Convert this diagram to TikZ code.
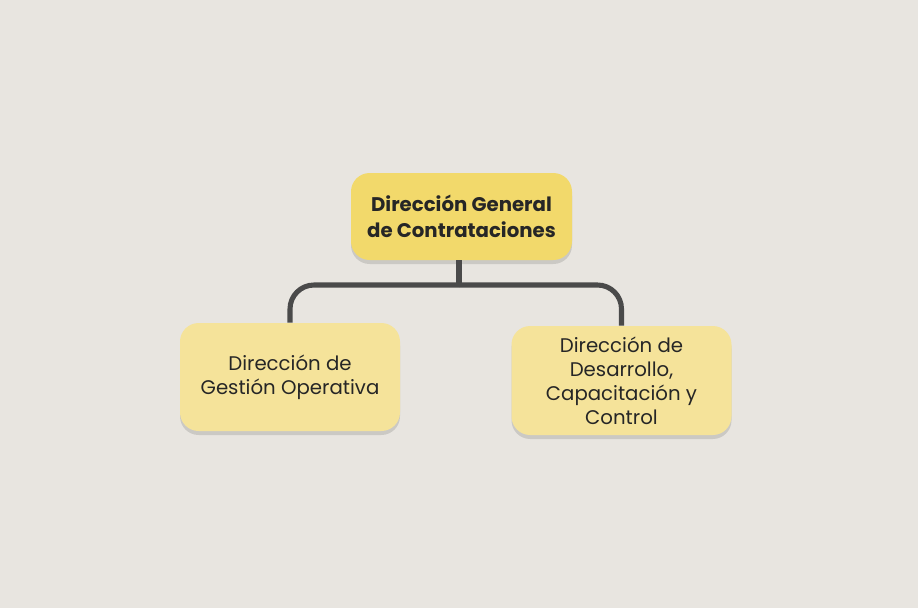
\documentclass[tikz,border=0pt]{standalone}
\usepackage{fontspec}
\setmainfont{Poppins}
\usetikzlibrary{shadows,calc}
\definecolor{bg}{HTML}{E8E5E0}
\definecolor{topfill}{HTML}{F2D96B}
\definecolor{subfill}{HTML}{F5E39A}
\definecolor{linec}{HTML}{4A4A4A}
\definecolor{txt}{HTML}{262626}
\begin{document}
\begin{tikzpicture}[x=0.75pt,y=-0.75pt,
  box/.style={rounded corners=14pt, align=center, text=txt, inner sep=0pt,
    drop shadow={shadow xshift=0pt, shadow yshift=-3pt, opacity=0.12, fill=black}},
  topbox/.style={box, fill=topfill, minimum width=221*0.75pt, minimum height=87*0.75pt,
    font=\fontsize{14.8}{20}\selectfont\bfseries},
  subbox/.style={box, fill=subfill, minimum width=220*0.75pt, minimum height=108*0.75pt,
    font=\fontsize{14.8}{18}\selectfont},
  conn/.style={draw=linec, line width=3.8pt, rounded corners=18pt}]
\fill[bg] (0,0) rectangle (918,608);
\useasboundingbox (0,0) rectangle (918,608);
\node[topbox] (top) at (461.5,216.5) {Dirección General\\de Contrataciones};
\node[subbox] (left) at (290,377) {Dirección de\\Gestión Operativa};
\node[subbox, minimum height=109*0.75pt] (right) at (621.5,380.5) {Dirección de\\Desarrollo,\\Capacitación y\\Control};
\coordinate (j) at (459,285);
\draw[conn] (top.south -| j) -- (j);
\draw[conn] (j) -| (left.north);
\draw[conn] (j) -| (right.north);
\end{tikzpicture}
\end{document}
